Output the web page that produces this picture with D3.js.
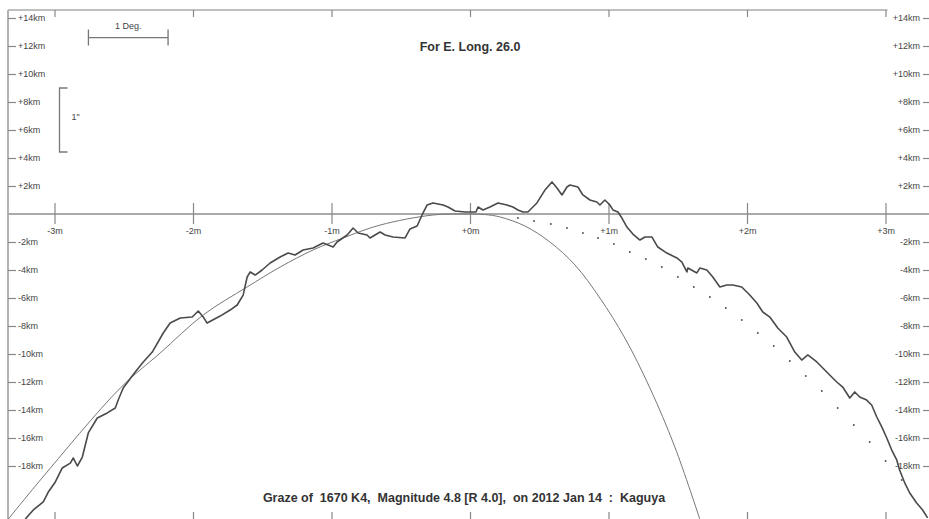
<!DOCTYPE html>
<html>
<head>
  <title>Graze profile</title>
  <script src="https://d3js.org/d3.v7.min.js"></script>
  <style>
    body { margin: 0; background: #fff; }
    text { font-family: "Liberation Sans", Arial, sans-serif; }
  </style>
</head>
<body>

<div id="chart"></div>

<script>
// Minute ticks along the graze line and km ticks
const minuteTicks = [-3, -2, -1, 0, 1, 2, 3];
const kmTicks = [14, 12, 10, 8, 6, 4, 2, -2, -4, -6, -8, -10, -12, -14, -16, -18];

// Kaguya limb profile (minutes, km)
const profileMin = [-3.211, -3.153, -3.081, -3.045, -2.994, -2.944, -2.886, -2.864, -2.835, -2.799,
  -2.756, -2.691, -2.619, -2.561, -2.540, -2.504, -2.417, -2.359, -2.294, -2.215,
  -2.165, -2.092, -2.006, -1.962, -1.926, -1.898, -1.804, -1.732, -1.681, -1.638,
  -1.609, -1.587, -1.551, -1.501, -1.443, -1.371, -1.313, -1.263, -1.205, -1.133,
  -1.061, -0.988, -0.960, -0.887, -0.844, -0.808, -0.743, -0.722, -0.649, -0.613,
  -0.556, -0.469, -0.433, -0.382, -0.346, -0.310, -0.267, -0.195, -0.159, -0.108,
  -0.036, 0.000, 0.043, 0.058, 0.094, 0.144, 0.202, 0.267, 0.310, 0.346,
  0.382, 0.418, 0.483, 0.541, 0.592, 0.628, 0.664, 0.700, 0.722, 0.779,
  0.815, 0.866, 0.916, 0.938, 0.974, 1.010, 1.032, 1.068, 1.097, 1.133,
  1.176, 1.227, 1.263, 1.313, 1.356, 1.421, 1.494, 1.530, 1.566, 1.573,
  1.638, 1.659, 1.710, 1.753, 1.804, 1.854, 1.898, 1.962, 2.020, 2.071,
  2.114, 2.165, 2.222, 2.287, 2.345, 2.395, 2.439, 2.504, 2.547, 2.597,
  2.648, 2.691, 2.742, 2.778, 2.814, 2.864, 2.900, 2.937, 2.973, 3.009,
  3.045, 3.081, 3.102, 3.139, 3.175, 3.225, 3.268, 3.304];
const profileKm = [-21.79, -21.14, -20.57, -19.86, -19.14, -18.14, -17.79, -17.43, -18.00, -17.36,
  -15.64, -14.57, -14.21, -13.86, -13.29, -12.43, -11.29, -10.57, -9.86, -8.50,
  -7.79, -7.43, -7.36, -6.93, -7.36, -7.79, -7.29, -6.86, -6.50, -5.79,
  -4.50, -4.14, -4.36, -4.00, -3.50, -3.07, -2.79, -2.93, -2.57, -2.43,
  -2.07, -2.36, -2.00, -1.50, -1.00, -1.36, -1.50, -1.71, -1.29, -1.50,
  -1.64, -1.71, -1.07, -0.86, -0.07, 0.64, 0.79, 0.64, 0.50, 0.21,
  0.14, 0.14, 0.14, 0.50, 0.29, 0.50, 0.79, 0.64, 0.50, 0.29,
  0.14, 0.14, 0.79, 1.71, 2.29, 1.86, 1.36, 1.93, 2.07, 1.93,
  1.36, 1.00, 0.86, 0.64, 1.00, 0.64, 0.29, 0.14, -0.29, -0.93,
  -1.43, -1.86, -1.64, -1.64, -2.36, -2.79, -3.14, -3.43, -4.14, -3.86,
  -4.21, -3.86, -4.00, -4.50, -5.21, -5.07, -5.07, -5.21, -5.79, -6.36,
  -7.00, -7.36, -8.14, -8.79, -9.86, -10.43, -10.07, -10.57, -11.00, -11.50,
  -12.00, -12.36, -13.14, -12.71, -13.07, -13.29, -13.64, -14.50, -15.21, -16.00,
  -16.86, -17.57, -18.29, -19.21, -19.93, -20.64, -21.14, -21.71];

// Mean limb curve
const limbMin = [-3.333, -3.102, -2.525, -2.237, -1.926, -1.609, -1.371, -1.133, -0.916, -0.649,
  -0.267, -0.036, 0.108, 0.216, 0.397, 0.577, 0.758, 0.938, 1.118, 1.299, 1.479, 1.659];
const limbKm = [-21.79, -19.00, -12.43, -9.93, -7.21, -5.21, -3.79, -2.57, -1.71, -0.79,
  -0.07, 0.00, -0.04, -0.21, -0.86, -2.00, -3.64, -6.00, -8.86, -12.43, -16.64, -21.79];

// Dotted track
const dotMin = [0.346, 0.462, 0.584, 0.700, 0.815, 0.924, 1.039, 1.154, 1.270, 1.385,
  1.501, 1.616, 1.732, 1.847, 1.962, 2.078, 2.193, 2.309, 2.424, 2.540,
  2.655, 2.771, 2.886, 3.001, 3.117];
const dotKm = [-0.29, -0.50, -0.71, -1.00, -1.36, -1.71, -2.14, -2.71, -3.21, -3.79,
  -4.50, -5.21, -5.93, -6.71, -7.57, -8.50, -9.43, -10.50, -11.57, -12.64,
  -13.86, -15.07, -16.29, -17.64, -19.00];

const titleTop = "For E. Long. 26.0";
const titleBottom = "Graze of  1670 K4,  Magnitude 4.8 [R 4.0],  on 2012 Jan 14  :  Kaguya";

const width = 929, height = 519;
const frameLeft = 8, frameTop = 10;

const svg = d3.select("#chart")
  .append("svg")
  .attr("width", width)
  .attr("height", height);

const x = d3.scaleLinear().domain([-3, 3]).range([54.5, 885.5]);
const y = d3.scaleLinear().domain([0, 14]).range([214, 18]);

const kmFmt = d => (d > 0 ? "+" : "") + d + "km";
const minFmt = d => (d >= 0 ? "+" : "") + d + "m";

// frame
svg.append("line").attr("x1", frameLeft).attr("x2", frameLeft).attr("y1", frameTop).attr("y2", height)
  .attr("stroke", "#999").attr("stroke-width", 1.5);
svg.append("line").attr("x1", frameLeft).attr("x2", x(3) + 2).attr("y1", frameTop).attr("y2", frameTop)
  .attr("stroke", "#aaa").attr("stroke-width", 1.5);

// zero line
svg.append("line").attr("x1", frameLeft).attr("x2", width).attr("y1", y(0)).attr("y2", y(0))
  .attr("stroke", "#aaa").attr("stroke-width", 2);

function styleAxis(g) {
  g.select(".domain").remove();
  g.selectAll(".tick line").attr("stroke", "#888").attr("stroke-width", 1.2);
  g.selectAll(".tick text").attr("fill", "#444").style("font-size", "9px")
    .style("font-family", "'Liberation Sans', Arial, sans-serif");
}

// left / right km axes
svg.append("g").attr("transform", `translate(${frameLeft},0)`)
  .call(d3.axisRight(y).tickValues(kmTicks).tickFormat(kmFmt).tickSize(8).tickPadding(2))
  .call(styleAxis);
svg.append("g").attr("transform", `translate(${width},0)`)
  .call(d3.axisLeft(y).tickValues(kmTicks).tickFormat(kmFmt).tickSize(6).tickPadding(3))
  .call(styleAxis);

// top / bottom minute ticks
svg.append("g").attr("transform", `translate(0,${frameTop})`)
  .call(d3.axisBottom(x).tickValues(minuteTicks).tickFormat("").tickSize(7))
  .call(styleAxis);
svg.append("g").attr("transform", `translate(0,${height})`)
  .call(d3.axisTop(x).tickValues(minuteTicks).tickFormat("").tickSize(7))
  .call(styleAxis);

// minute ticks crossing the zero line
svg.append("g").attr("transform", `translate(0,${y(0) - 11})`)
  .call(d3.axisBottom(x).tickValues(minuteTicks).tickFormat(minFmt).tickSize(21).tickPadding(4))
  .call(styleAxis);

// limb curve
const limbData = limbMin.map((m, i) => [m, limbKm[i]]);
svg.append("path")
  .datum(limbData)
  .attr("fill", "none")
  .attr("stroke", "#777")
  .attr("stroke-width", 1)
  .attr("d", d3.line().x(d => x(d[0])).y(d => y(d[1])).curve(d3.curveCatmullRom.alpha(0.5)));

// dotted track
svg.selectAll("circle.dot")
  .data(dotMin.map((m, i) => [m, dotKm[i]]))
  .enter()
  .append("circle")
  .attr("class", "dot")
  .attr("cx", d => x(d[0]))
  .attr("cy", d => y(d[1]))
  .attr("r", 1)
  .attr("fill", "#555");

// profile
const profileData = profileMin.map((m, i) => [m, profileKm[i]]);
svg.append("path")
  .datum(profileData)
  .attr("fill", "none")
  .attr("stroke", "#4a4a4a")
  .attr("stroke-width", 1.6)
  .attr("stroke-linejoin", "round")
  .attr("d", d3.line().x(d => x(d[0])).y(d => y(d[1])));

// scale bar: 1 Deg.
const barX0 = x(-2.755), barX1 = x(-2.18), barY = y(12.6);
svg.append("path")
  .attr("d", `M${barX0},${barY - 8}V${barY + 8}M${barX0},${barY}H${barX1}M${barX1},${barY - 8}V${barY + 8}`)
  .attr("stroke", "#777").attr("stroke-width", 1.3).attr("fill", "none");
svg.append("text").attr("x", (barX0 + barX1) / 2).attr("y", barY - 9)
  .attr("text-anchor", "middle").style("font-size", "9px").attr("fill", "#444").text("1 Deg.");

// scale bracket: 1"
const brX = 59.5, brY0 = y(9.0), brY1 = y(4.43);
svg.append("path")
  .attr("d", `M${brX + 8},${brY0}H${brX}V${brY1}H${brX + 8}`)
  .attr("stroke", "#777").attr("stroke-width", 1.3).attr("fill", "none");
svg.append("text").attr("x", brX + 12).attr("y", (brY0 + brY1) / 2)
  .style("font-size", "9px").attr("fill", "#444").text("1\"");

// titles
svg.append("text").attr("x", x(0)).attr("y", 51)
  .attr("text-anchor", "middle").style("font-size", "12.5px").style("font-weight", "bold")
  .attr("fill", "#333").text(titleTop);
svg.append("text").attr("x", 464).attr("y", 502)
  .attr("text-anchor", "middle").style("font-size", "12.5px").style("font-weight", "bold")
  .style("white-space", "pre").attr("fill", "#333").text(titleBottom);
</script>

</body>
</html>
